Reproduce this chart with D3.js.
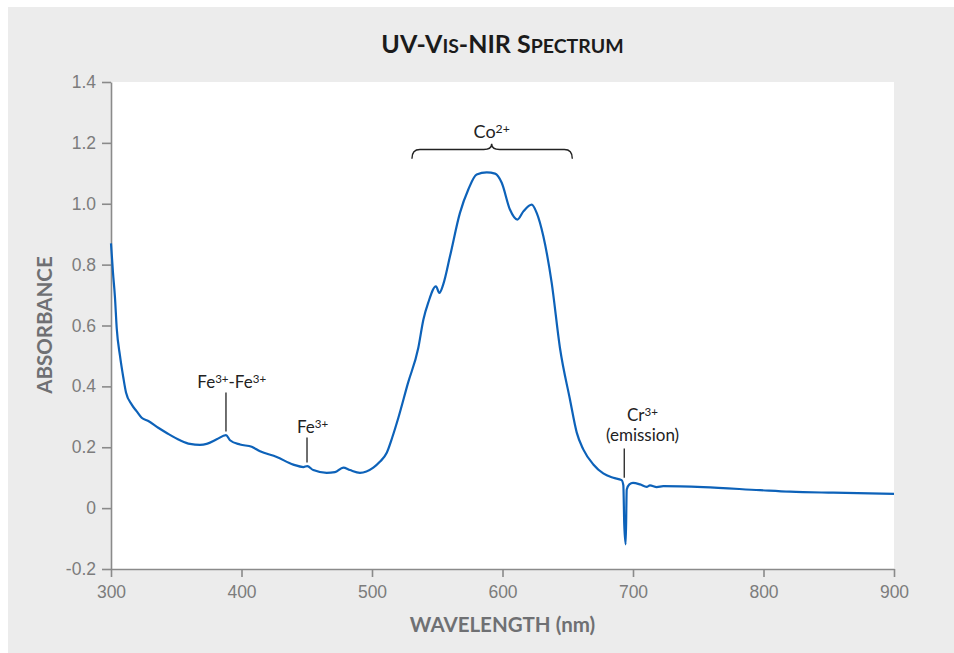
<!DOCTYPE html>
<html>
<head>
<meta charset="utf-8">
<script src="https://cdn.jsdelivr.net/npm/d3@7"></script>
<style>
  body { margin: 0; background: #fff; }
  .tick text { font-family: "Liberation Sans", Arial, sans-serif; font-size: 17.5px; fill: #7c7c7c; }
  .tick line, .domain { stroke: #8a8a8a; stroke-width: 1.6; }
  .axis-title { font-family: Lato, sans-serif; font-weight: 700; font-size: 20.5px; fill: #6f7073; }
  .note { font-family: Lato, sans-serif; font-size: 17px; fill: #222; }
</style>
</head>
<body>
<div id="chart"></div>
<script>
// Spectrum
const wavelength = [300, 301.5, 303, 304.4, 306.9, 309.4, 311.5, 315.9, 319.7, 323.5, 328.6, 336.2,
  342.7, 352.9, 360.5, 368.2, 373.3, 381, 388.1, 391.2, 398.9, 407.8, 414.2, 427, 439.7, 447.4,
  450.4, 455, 465.3, 471.6, 478, 483.1, 490.8, 501, 506, 511.3, 515.5, 520.2, 527.5, 535.5, 539.4, 543.1,
  549, 551.6, 554.6, 559.8, 567.4, 573.8, 580.2, 587.9, 594.3, 599.4, 605.7, 611.4, 616, 622.4,
  626.2, 631.3, 637.7, 644, 651.7, 656.9, 661.9, 669.6, 677.2, 684.9, 691.3, 692.6, 693.3,
  694.4, 695.2, 697.2, 700, 705.4, 710.5, 713, 718.2, 723.2, 753.9, 797.3, 820.3, 853.5, 900];
const absorbance = [0.87, 0.775, 0.695, 0.59, 0.5, 0.43, 0.38, 0.34, 0.318, 0.297, 0.286, 0.264,
  0.247, 0.223, 0.211, 0.208, 0.211, 0.226, 0.24, 0.223, 0.209, 0.2015, 0.187, 0.168, 0.143, 0.135,
  0.138, 0.125, 0.116, 0.118, 0.133, 0.125, 0.116, 0.133, 0.152, 0.182, 0.232, 0.297, 0.41, 0.527, 0.62, 0.675,
  0.729, 0.707, 0.735, 0.828, 0.97, 1.047, 1.096, 1.103, 1.099, 1.069, 0.981, 0.948, 0.975, 0.997,
  0.97, 0.893, 0.74, 0.527, 0.357, 0.248, 0.193, 0.1435, 0.114, 0.0998, 0.092, 0.075, -0.054,
  -0.119, 0.061, 0.078, 0.083, 0.078, 0.07, 0.0745, 0.069, 0.072, 0.069, 0.059, 0.054, 0.0506, 0.047];

const xTicks = [300, 400, 500, 600, 700, 800, 900];
const yTicks = [-0.2, 0, 0.2, 0.4, 0.6, 0.8, 1.0, 1.2, 1.4];

// Peak labels: pointer at lineX from lineTop down to lineBottom, text centred on textX
const notes = [
  { lines: [[["Fe"], ["3+", 1], ["-Fe"], ["3+", 1]]], textX: 392.5, textY: 0.395, lineX: 388.1, lineTop: 0.38, lineBottom: 0.252 },
  { lines: [[["Fe"], ["3+", 1]]], textX: 454.5, textY: 0.247, lineX: 450.2, lineTop: 0.232, lineBottom: 0.15 },
  { lines: [[["Cr"], ["3+", 1]], [["(emission)"]]], textX: 707.3, textY: 0.285, lineX: 693.3, lineTop: 0.196, lineBottom: 0.1 },
];
const brace = { from: 530.6, mid: 591.7, to: 653.5, base: 1.178, tip: 1.197, end: 1.148 };
const braceLabel = [["Co"], ["2+", 1]];
const titleParts = [["UV-V"], ["IS", 1], ["-NIR S"], ["PECTRUM", 1]];

const data = wavelength.map((w, i) => ({ w, a: absorbance[i] }));

const dimensions = {
  width: 954,
  height: 653,
  margin: { top: 82, right: 60, bottom: 84, left: 111 },
};
dimensions.containerWidth = dimensions.width - dimensions.margin.left - dimensions.margin.right;
dimensions.containerHeight = dimensions.height - dimensions.margin.top - dimensions.margin.bottom;

const svg = d3.select("#chart")
  .append("svg")
  .attr("width", dimensions.width)
  .attr("height", dimensions.height);

// grey panel + white plot area
svg.append("rect")
  .attr("x", 8).attr("y", 7)
  .attr("width", dimensions.width - 8).attr("height", dimensions.height - 7)
  .attr("fill", "#ececec");

const container = svg.append("g")
  .attr("transform", `translate(${dimensions.margin.left}, ${dimensions.margin.top})`);

container.append("rect")
  .attr("width", dimensions.containerWidth)
  .attr("height", dimensions.containerHeight)
  .attr("fill", "#fff");

// Scales
const xScale = d3.scaleLinear().domain([300, 900]).range([0, dimensions.containerWidth]);
const yScale = d3.scaleLinear().domain([-0.2, 1.4]).range([dimensions.containerHeight, 0]);

// Axes
const fmtY = (d) => (d === 0 ? "0" : d3.format(".1f")(d).replace("−", "-"));
const xAxisG = container.append("g")
  .attr("transform", `translate(0, ${dimensions.containerHeight})`)
  .call(d3.axisBottom(xScale).tickValues(xTicks).tickSize(8).tickSizeOuter(0).tickPadding(7));
const yAxisG = container.append("g")
  .call(d3.axisLeft(yScale).tickValues(yTicks).tickFormat(fmtY).tickSize(9).tickSizeOuter(0).tickPadding(6));

xAxisG.selectAll(".tick text").attr("dy", "0.78em");

svg.append("text")
  .attr("class", "axis-title")
  .attr("x", dimensions.margin.left + dimensions.containerWidth / 2)
  .attr("y", 632)
  .attr("text-anchor", "middle")
  .text("WAVELENGTH (nm)");

svg.append("text")
  .attr("class", "axis-title")
  .attr("transform", `translate(52, ${dimensions.margin.top + 243}) rotate(-90)`)
  .attr("text-anchor", "middle")
  .text("ABSORBANCE");

// Title, small caps drawn by hand
const title = svg.append("text")
  .attr("x", dimensions.margin.left + dimensions.containerWidth / 2)
  .attr("y", 53)
  .attr("text-anchor", "middle")
  .style("font-family", "Lato, sans-serif")
  .style("font-weight", 700)
  .style("font-size", "25px")
  .attr("fill", "#1b1b1b");
titleParts.forEach(([t, small]) => {
  title.append("tspan").attr("font-size", small ? "78%" : null).text(t);
});

// Spectrum
const line = d3.line()
  .x((d) => xScale(d.w))
  .y((d) => yScale(d.a))
  .curve(d3.curveMonotoneX);

container.append("path")
  .datum(data)
  .attr("fill", "none")
  .attr("stroke", "#0d62b9")
  .attr("stroke-width", 2.2)
  .attr("stroke-linejoin", "round")
  .attr("d", line);

// text with superscripts
const addParts = (sel, parts) => {
  parts.forEach(([t, sup]) => {
    sel.append("tspan")
      .attr("font-size", sup ? "68%" : null)
      .attr("baseline-shift", sup ? "45%" : null)
      .text(t);
  });
};

notes.forEach((n) => {
  container.append("line")
    .attr("x1", xScale(n.lineX)).attr("x2", xScale(n.lineX))
    .attr("y1", yScale(n.lineTop)).attr("y2", yScale(n.lineBottom))
    .attr("stroke", "#222").attr("stroke-width", 1.3);
  n.lines.forEach((parts, i) => {
    const t = container.append("text")
      .attr("class", "note")
      .attr("x", xScale(n.textX))
      .attr("y", yScale(n.textY) + i * 20)
      .attr("text-anchor", "middle");
    addParts(t, parts);
  });
});

// Co2+ brace
const bx0 = xScale(brace.from), bx1 = xScale(brace.to), bm = xScale(brace.mid);
const by = yScale(brace.base), bt = yScale(brace.tip), be = yScale(brace.end);
const r = 8;
container.append("path")
  .attr("fill", "none")
  .attr("stroke", "#222")
  .attr("stroke-width", 1.4)
  .attr("d", `M${bx0},${be} Q${bx0},${by} ${bx0 + r},${by} L${bm - r},${by} Q${bm},${by} ${bm},${bt}`
    + ` Q${bm},${by} ${bm + r},${by} L${bx1 - r},${by} Q${bx1},${by} ${bx1},${be}`);

const coText = container.append("text")
  .attr("class", "note")
  .style("font-size", "18px")
  .attr("x", bm)
  .attr("y", bt - 6)
  .attr("text-anchor", "middle");
addParts(coText, braceLabel);
</script>
</body>
</html>
